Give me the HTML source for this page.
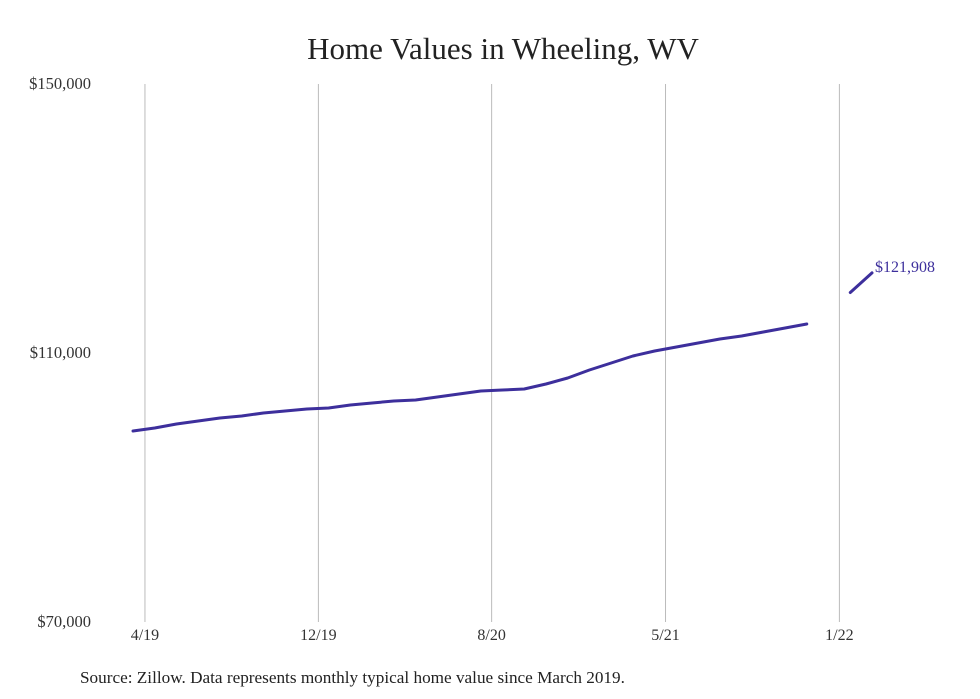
<!DOCTYPE html>
<html><head><meta charset="utf-8"><style>
body{margin:0;background:#fff;}
svg{display:block;font-family:"Liberation Serif",serif;}
</style></head><body>
<svg width="980" height="699" viewBox="0 0 980 699">
<text x="503" y="59" text-anchor="middle" font-size="31" fill="#222">Home Values in Wheeling, WV</text>
<g id="grid"></g><g id="yaxis"></g><g id="xaxis"></g><g id="series"></g>
<text x="80" y="683" font-size="17.2" fill="#222">Source: Zillow. Data represents monthly typical home value since March 2019.</text>
</svg>
<script>
const values=[98400,98850,99440,99890,100330,100630,101080,101370,101670,101820,102270,102560,102860,103010,103450,103900,104350,104500,104650,105390,106280,107470,108510,109550,110300,110890,111490,112080,112530,113120,113720,114310,null,119000,121908];
const xTickLabels=["4/19","12/19","8/20","5/21","1/22"];
const xTickIdx=[0.55,8.53,16.5,24.5,32.5];
const yTicks=[70000,110000,150000];
const yTickLabels=["$70,000","$110,000","$150,000"];
const lastLabel="$121,908";
const NS="http://www.w3.org/2000/svg";
const x=i=>133+i*(872-133)/34;
const y=v=>622-(v-70000)*(622-84)/80000;
function mk(t,a,p){const e=document.createElementNS(NS,t);for(const k in a)e.setAttribute(k,a[k]);p.appendChild(e);return e;}
const g=document.getElementById('grid'),ya=document.getElementById('yaxis'),xa=document.getElementById('xaxis'),s=document.getElementById('series');
xTickIdx.forEach((t,i)=>{
 const l=mk('line',{x1:x(t),x2:x(t),y1:84,y2:622,stroke:'#bbb','stroke-width':1},g);
 
 
 const tx=mk('text',{x:x(t),y:640,'text-anchor':'middle','font-size':16,fill:'#333'},xa);
 tx.textContent=xTickLabels[i];
 
 
});
yTicks.forEach((v,i)=>{
 const tx=mk('text',{x:91,y:y(v)+5,'text-anchor':'end','font-size':16.5,fill:'#333'},ya);
 tx.textContent=yTickLabels[i];
 
 
});
let segs=[],cur=[];
values.forEach((v,i)=>{if(v==null){if(cur.length)segs.push(cur);cur=[];}else cur.push(x(i).toFixed(1)+','+y(v).toFixed(1));});
if(cur.length)segs.push(cur);
segs.forEach((sg,k)=>{
 const p=mk('polyline',{points:sg.join(' '),fill:'none',stroke:'#3d2f9c','stroke-width':3,'stroke-linejoin':'round','stroke-linecap':'round'},s);
 
 
});
const li=values.length-1;
const lt=mk('text',{x:x(li)+3,y:y(values[li])-1,'font-size':16,fill:'#3d2f9c'},s);
lt.textContent=lastLabel;


</script>
</body></html>
